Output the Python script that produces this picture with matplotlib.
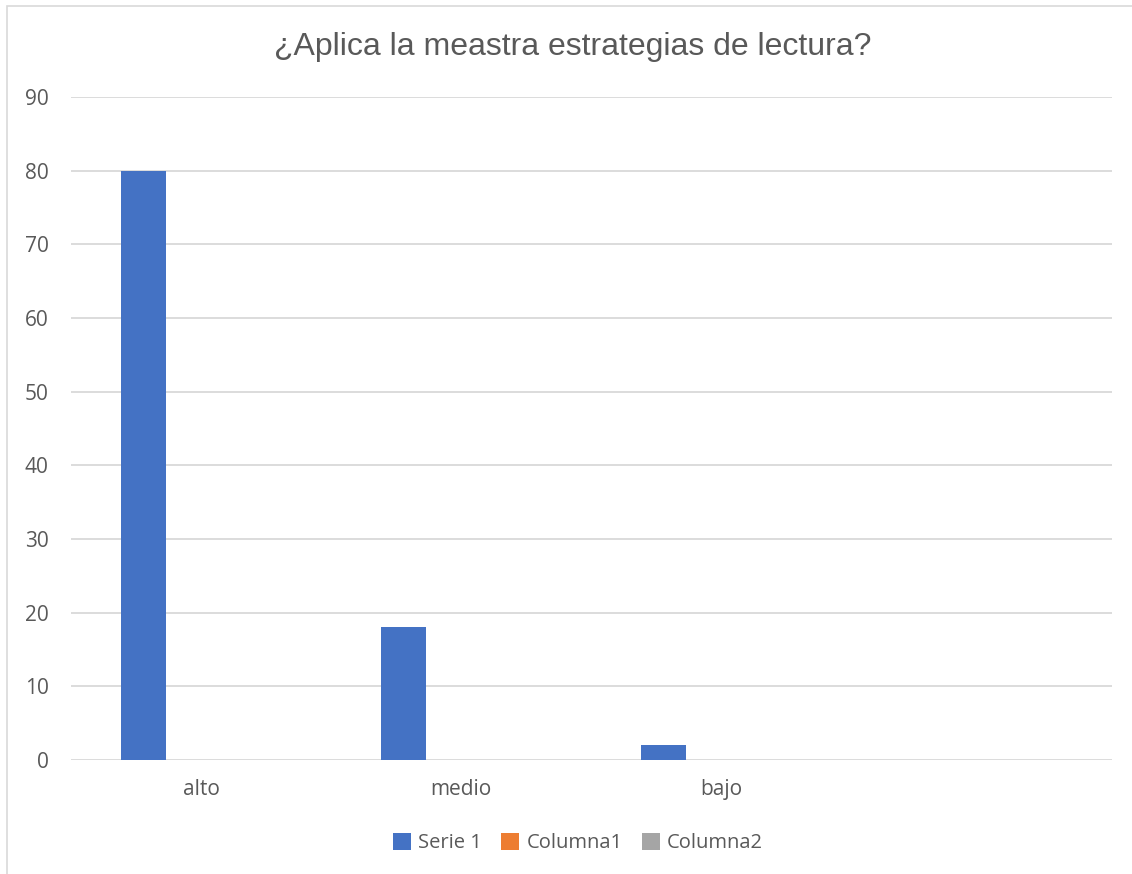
import matplotlib
matplotlib.use("Agg")
import matplotlib.pyplot as plt
from matplotlib.patches import Rectangle
import numpy as np

categories = ["alto", "medio", "bajo", ""]
serie1 = [80, 18, 2, 0]
columna1 = [0, 0, 0, 0]
columna2 = [0, 0, 0, 0]
series_names = ["Serie 1", "Columna1", "Columna2"]
colors = ["#4472C4", "#ED7D31", "#A5A5A5"]
yticks = [0, 10, 20, 30, 40, 50, 60, 70, 80, 90]
title = "¿Aplica la meastra estrategias de lectura?"

W, H = 1132, 874
fig = plt.figure(figsize=(W / 100, H / 100), dpi=100)
fig.patch.set_facecolor("white")

# outer chart border (left and top visible)
fig.add_artist(Rectangle((7 / W, -0.1), 1.2, (H - 6) / H + 0.1, transform=fig.transFigure,
                         fill=False, edgecolor="#D9D9D9", linewidth=1.2))

x0, x1 = 71, 1112
y0, y1 = 760, 97
ax = fig.add_axes([x0 / W, (H - y0) / H, (x1 - x0) / W, (y0 - y1) / H])
ax.set_facecolor("none")

x = np.arange(len(categories))
bw = 0.174
offsets = [-0.222, -0.048, 0.126]
for vals, off, c, name in zip([serie1, columna1, columna2], offsets, colors, series_names):
    ax.bar(x + off, vals, width=bw, color=c, label=name, zorder=3)

ax.set_xlim(-0.5, len(categories) - 0.5)
ax.set_ylim(0, 90)
ax.set_yticks(yticks)
ax.grid(axis="y", color="#D9D9D9", linewidth=1.3, zorder=0)
ax.set_axisbelow(True)
for s in ["top", "right", "left", "bottom"]:
    ax.spines[s].set_visible(False)
ax.tick_params(axis="both", length=0, colors="#595959", labelsize=15)
ax.tick_params(axis="y", pad=16)
ax.tick_params(axis="x", pad=14)
ax.set_xticks(x[:3])
ax.set_xticklabels(categories[:3], fontfamily="Open Sans")
for lab in ax.get_yticklabels():
    lab.set_fontfamily("Open Sans")

fig.text(573 / W, 1 - 47 / H, title, ha="center", va="center", fontsize=23,
         color="#595959", fontfamily="Liberation Sans")

leg = ax.legend(loc="center", bbox_to_anchor=(578 / W, 1 - 843 / H),
                bbox_transform=fig.transFigure, ncol=3, frameon=False,
                prop={"family": "Open Sans", "size": 14.5}, handlelength=0.9,
                handleheight=0.9, handletextpad=0.35, columnspacing=0.95)
for t in leg.get_texts():
    t.set_color("#595959")

fig.savefig("out.png", dpi=100)
